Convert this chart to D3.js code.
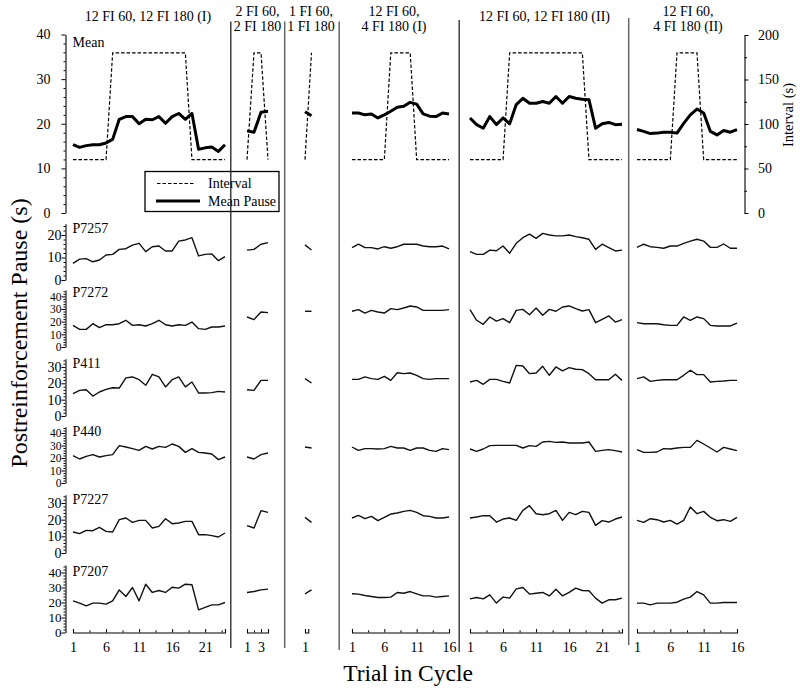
<!DOCTYPE html>
<html>
<head>
<meta charset="utf-8">
<script src="https://cdn.jsdelivr.net/npm/d3@7/dist/d3.min.js"></script>
<style>
html,body{margin:0;padding:0;background:#fff;}
svg{display:block;}
</style>
</head>
<body>
<svg id="chart" width="800" height="692"></svg>
<script>
// ================= DATA =================
const panelTitles = [
  ["12 FI 60, 12 FI 180 (I)"],
  ["2 FI 60,", "2 FI 180"],
  ["1 FI 60,", "1 FI 180"],
  ["12 FI 60,", "4 FI 180 (I)"],
  ["12 FI 60, 12 FI 180 (II)"],
  ["12 FI 60,", "4 FI 180 (II)"]
];
const trialCounts = [24, 4, 2, 16, 24, 16];
const xMajorTicks = [[1,6,11,16,21],[1,3],[1],[1,6,11,16],[1,6,11,16,21],[1,6,11,16]];
const xMinorTicks = [[3.5,8.5,13.5,18.5,23.5],[2,4],[],[3.5,8.5,13.5],[3.5,8.5,13.5,18.5,23.5],[3.5,8.5,13.5]];

const meanTicks = [0, 10, 20, 30, 40];
const intervalTicks = [0, 50, 100, 150, 200];

const intervalValues = [
  [60,60,60,60,60,60,180,180,180,180,180,180,180,180,180,180,180,180,60,60,60,60,60,60],
  [60,180,180,60],
  [60,180],
  [60,60,60,60,60,60,180,180,180,180,60,60,60,60,60,60],
  [60,60,60,60,60,60,180,180,180,180,180,180,180,180,180,180,180,180,60,60,60,60,60,60],
  [60,60,60,60,60,60,180,180,180,180,60,60,60,60,60,60]
];

const meanPause = [
  [15.3,14.7,15.1,15.3,15.3,15.7,16.5,21.0,21.6,21.6,20.0,21.0,20.9,21.6,20.1,21.6,22.3,21.0,22.3,14.3,14.6,14.8,13.8,15.3],
  [18.4,18.1,22.6,22.8],
  [22.7,21.8],
  [22.4,22.4,22.0,22.2,21.3,22.0,22.8,23.7,23.9,24.8,24.4,22.2,21.7,21.6,22.4,22.2],
  [21.3,19.8,19.0,21.6,19.8,21.3,20.0,24.3,25.7,24.6,24.6,25.0,24.6,26.1,24.6,26.1,25.7,25.5,25.4,19.0,20.0,20.3,19.8,19.9],
  [18.7,18.3,17.8,17.9,18.1,18.1,17.9,20.1,22.0,23.3,22.4,18.3,17.5,18.5,18.1,18.7]
];

const subjects = ["P7257", "P7272", "P411", "P440", "P7227", "P7207"];
const subjectMax = [25, 45, 35, 45, 35, 45];
const subjectTicks = [[0,10,20],[0,10,20,30,40],[0,10,20,30],[0,10,20,30,40],[0,10,20,30],[0,10,20,30,40]];

const P7257 = [
  [7.4,9.3,9.5,8.1,8.9,11.1,11.4,13.6,13.9,15.5,16.3,12.6,14.8,15.1,12.9,12.9,17.3,17.8,18.8,10.7,11.4,11.6,8.6,10.4],
  [13.3,13.6,15.9,16.6],
  [15.6,13.3],
  [14.4,15.9,14.4,14.4,13.8,14.8,14.1,14.8,15.9,15.9,15.9,15.1,14.8,14.8,15.1,13.8],
  [12.6,11.4,11.4,13.3,13.0,15.1,11.9,16.3,18.8,20.4,18.5,20.7,20.0,19.6,19.6,20.0,19.3,18.8,18.1,13.6,15.9,14.4,12.9,13.3],
  [14.5,15.9,14.8,14.5,14.1,15.1,15.1,16.3,17.3,18.1,17.3,14.5,14.5,16.0,14.1,14.1]
];
const P7272 = [
  [17.1,13.9,13.9,18.4,15.3,17.6,17.6,18.4,21.1,17.1,17.6,16.6,18.4,21.1,17.6,16.6,17.6,17.1,19.7,14.5,13.9,15.8,15.8,16.6],
  [23.7,21.6,27.6,27.1],
  [28.2,28.2],
  [28.2,29.5,26.8,28.9,27.6,26.8,30.3,29.5,30.8,32.4,31.6,28.9,28.9,28.9,28.9,29.5],
  [29.5,21.1,17.9,23.7,20.5,22.4,19.2,28.9,29.7,25.5,30.8,25.0,29.7,28.2,31.6,32.4,30.3,28.4,29.5,19.2,21.8,24.5,19.7,21.6],
  [19.2,18.4,18.4,18.4,17.6,17.1,17.1,23.7,21.1,23.7,22.4,17.1,16.6,16.6,16.6,18.9]
];
const P411 = [
  [13.7,15.7,16.1,12.2,14.7,16.3,17.3,17.1,23.3,23.9,22.2,18.8,25.5,23.9,17.8,22.2,23.9,17.8,20.8,14.1,14.1,14.3,15.1,14.7],
  [16.1,15.7,21.8,21.8],
  [22.9,20.2],
  [22.4,22.4,23.9,22.9,22.4,24.3,21.8,26.5,25.9,26.3,24.9,22.9,22.4,22.9,22.9,22.9],
  [20.8,21.8,19.4,22.4,22.4,21.2,20.2,31.0,30.6,25.9,26.3,30.4,24.9,30.0,27.6,29.6,28.6,28.4,25.9,22.2,22.2,22.2,25.5,21.8],
  [22.9,23.9,21.2,21.8,22.2,22.2,22.2,24.9,28.0,25.3,25.3,20.8,21.2,21.4,21.8,21.8]
];
const P440 = [
  [21.9,19.2,21.3,22.7,20.8,21.9,22.7,29.9,28.8,27.5,26.1,29.3,27.2,29.3,28.5,31.2,29.3,24.5,27.5,24.5,24.0,23.2,18.7,20.8],
  [20.8,19.2,22.7,24.0],
  [28.8,28.0],
  [28.8,26.1,27.5,27.5,27.2,27.5,29.3,28.0,28.0,26.1,28.0,28.0,26.1,25.3,27.5,26.7],
  [27.2,25.3,27.2,29.9,30.1,30.1,30.1,30.1,28.0,29.9,29.3,32.8,33.3,32.5,32.8,32.0,32.0,32.0,32.8,25.3,26.1,26.7,25.9,24.8],
  [26.7,24.5,24.5,24.8,27.5,27.2,28.0,28.5,28.5,34.1,31.2,28.0,24.8,28.5,27.2,25.9]
];
const P7227 = [
  [12.6,11.6,13.6,13.4,15.4,13.0,12.6,20.0,21.0,18.4,19.6,19.6,15.0,16.0,20.6,17.6,18.0,19.0,19.0,11.0,11.0,10.4,9.6,12.0],
  [16.4,15.0,25.4,24.4],
  [21.4,18.4],
  [21.0,22.6,20.6,22.0,19.4,21.4,23.4,24.0,25.0,25.6,24.4,22.4,22.0,21.0,21.0,21.6],
  [21.0,21.6,22.4,22.4,18.6,20.4,21.0,19.6,25.6,28.4,23.6,23.0,23.6,25.6,19.6,24.4,23.0,25.0,24.4,16.6,19.4,18.6,20.4,21.6],
  [19.6,18.4,20.6,20.0,18.6,19.6,17.4,19.6,27.6,23.6,25.0,21.4,19.4,20.0,19.0,21.4]
];
const P7207 = [
  [21.1,19.6,17.8,19.6,19.6,18.9,21.1,28.4,24.0,30.0,21.1,32.2,26.7,28.0,26.7,30.2,29.6,32.2,31.8,15.1,16.7,18.4,18.4,20.0],
  [26.7,27.3,28.4,28.9],
  [25.8,28.4],
  [25.8,25.6,24.7,24.0,23.3,23.3,23.6,26.7,26.2,27.3,25.8,24.4,24.4,23.6,24.0,24.4],
  [22.4,23.3,22.4,25.1,19.6,23.6,22.9,29.1,30.0,25.6,26.2,26.7,24.4,28.9,24.4,26.7,29.6,28.0,27.8,22.9,19.6,21.8,21.8,22.9],
  [19.6,19.6,18.4,19.6,19.6,19.6,20.2,22.2,23.6,27.3,25.1,19.6,19.6,20.0,20.0,20.0]
];
const subjectData = [P7257, P7272, P411, P440, P7227, P7207];

// ================= LAYOUT =================
const FONT = "'Liberation Serif','Times New Roman',Times,serif";
const svg = d3.select("#chart");
const AXIS_X = 65.5;
const RIGHT_AXIS_X = 744.5;
const X_AXIS_Y = 632.5;
const panelX = [[73,225],[247,268],[305,311.5],[352,449],[470,622],[637,737]];
const xAxisEnd = [24, 4, 1.5, 16, 24, 16];
const titleX = [148, 257.5, 311, 394, 544.5, 688];
const meanRow = {y0: 213, yTop: 34.5, nameY: 46.5};
const subjectRows = [
  {y0: 280,   yTop: 223.75, nameY: 232.5, fs: 14},
  {y0: 347,   yTop: 290,    nameY: 297,   fs: 11.5},
  {y0: 416,   yTop: 358.8,  nameY: 368,   fs: 14},
  {y0: 483,   yTop: 426.75, nameY: 436,   fs: 11.5},
  {y0: 553,   yTop: 494.7,  nameY: 504,   fs: 14},
  {y0: 632.5, yTop: 565,    nameY: 576,   fs: 13}
];
const dividers = [
  {x: 230.8, y1: 21.5, y2: 648, c: "#222", w: 1.3},
  {x: 284.7, y1: 21.5, y2: 648, c: "#666", w: 1.5},
  {x: 339.2, y1: 21.5, y2: 650, c: "#666", w: 1.5},
  {x: 459.2, y1: 20,   y2: 652, c: "#333", w: 1.4},
  {x: 628.7, y1: 18,   y2: 645, c: "#666", w: 1.5}
];

const xs = trialCounts.map((n, i) => d3.scaleLinear().domain([1, n]).range(panelX[i]));

function styleAxis(g, fs) {
  fs = fs || 14;
  g.attr("font-family", FONT).attr("font-size", fs);
  g.selectAll("text").attr("fill", "#000").attr("font-family", FONT).attr("font-size", fs);
  g.selectAll("line").attr("stroke", "#000").attr("stroke-width", 1);
  g.selectAll("path").attr("stroke", "#000").attr("stroke-width", 1.1);
}

function drawLeftAxis(y, ticks, max, pad, fs) {
  const minors = d3.range(0, max + 0.001, 2).filter(v => v % 10 !== 0);
  const gMin = svg.append("g").attr("transform", `translate(${AXIS_X},0)`)
    .call(d3.axisLeft(y).tickValues(minors).tickSize(2).tickFormat(""));
  gMin.select(".domain").remove();
  styleAxis(gMin);
  const g = svg.append("g").attr("transform", `translate(${AXIS_X},0)`)
    .call(d3.axisLeft(y).tickValues(ticks).tickSize(4).tickSizeOuter(0).tickPadding(pad));
  styleAxis(g, fs);
}

// ---------- Mean panel ----------
const yMean = d3.scaleLinear().domain([0, 40]).range([meanRow.y0, meanRow.yTop]);
const yInt = d3.scaleLinear().domain([0, 200]).range([meanRow.y0, 35]);
drawLeftAxis(yMean, meanTicks, 40, 11, 14);

// right axis
{
  const minors = d3.range(0, 201, 25).filter(v => v % 50 !== 0);
  const gMin = svg.append("g").attr("transform", `translate(${RIGHT_AXIS_X},0)`)
    .call(d3.axisRight(yInt).tickValues(minors).tickSize(2.5).tickFormat(""));
  gMin.select(".domain").remove();
  styleAxis(gMin);
  const g = svg.append("g").attr("transform", `translate(${RIGHT_AXIS_X},0)`)
    .call(d3.axisRight(yInt).tickValues(intervalTicks).tickSize(4).tickSizeOuter(0).tickPadding(9.5));
  styleAxis(g);
}
svg.append("text")
  .attr("transform", "translate(793,115) rotate(-90)")
  .attr("text-anchor", "middle")
  .attr("font-family", FONT).attr("font-size", 14.5)
  .text("Interval (s)");

svg.append("text").attr("x", 72.5).attr("y", meanRow.nameY)
  .attr("font-family", FONT).attr("font-size", 14).text("Mean");

trialCounts.forEach((n, i) => {
  const x = xs[i];
  svg.append("path")
    .datum(intervalValues[i])
    .attr("fill", "none").attr("stroke", "#000").attr("stroke-width", 1.2)
    .attr("stroke-dasharray", "3.5,2")
    .attr("d", d3.line().x((d, k) => x(k + 1)).y(d => yInt(d)));
  svg.append("path")
    .datum(meanPause[i])
    .attr("fill", "none").attr("stroke", "#000").attr("stroke-width", 3)
    .attr("stroke-linejoin", "round")
    .attr("d", d3.line().x((d, k) => x(k + 1)).y(d => yMean(d)));
});

// ---------- Subject panels ----------
subjects.forEach((name, r) => {
  const row = subjectRows[r];
  const y = d3.scaleLinear().domain([0, subjectMax[r]]).range([row.y0, row.yTop]);
  drawLeftAxis(y, subjectTicks[r], subjectMax[r], 0, row.fs);
  svg.append("text").attr("x", 72.5).attr("y", row.nameY)
    .attr("font-family", FONT).attr("font-size", 14).text(name);
  subjectData[r].forEach((series, i) => {
    const x = xs[i];
    svg.append("path")
      .datum(series)
      .attr("fill", "none").attr("stroke", "#111").attr("stroke-width", 1.4)
      .attr("stroke-linejoin", "round")
      .attr("d", d3.line().x((d, k) => x(k + 1)).y(d => y(d)));
  });
});

// ---------- X axes ----------
trialCounts.forEach((n, i) => {
  const xa = d3.scaleLinear().domain([1, xAxisEnd[i]]).range([xs[i](1), xs[i](xAxisEnd[i])]);
  const minors = xMinorTicks[i].filter(v => v <= xAxisEnd[i]);
  if (minors.length) {
    const gMin = svg.append("g").attr("transform", `translate(0,${X_AXIS_Y})`)
      .call(d3.axisBottom(xa).tickValues(minors).tickSize(-2.2).tickFormat(""));
    gMin.select(".domain").remove();
    styleAxis(gMin);
  }
  const g = svg.append("g").attr("transform", `translate(0,${X_AXIS_Y})`)
    .call(d3.axisBottom(xa).tickValues(xMajorTicks[i]).tickSize(-3.5).tickSizeOuter(-3.5).tickPadding(10).tickFormat(d3.format("d")));
  styleAxis(g);
});

// ---------- Titles ----------
panelTitles.forEach((lines, i) => {
  const ys = lines.length === 1 ? [20.5] : [15.5, 30.5];
  lines.forEach((t, j) => {
    svg.append("text").attr("x", titleX[i]).attr("y", ys[j])
      .attr("text-anchor", "middle")
      .attr("font-family", FONT).attr("font-size", 14).text(t);
  });
});

// ---------- Legend ----------
{
  const lg = svg.append("g");
  lg.append("rect").attr("x", 145).attr("y", 171.5).attr("width", 134).attr("height", 40)
    .attr("fill", "none").attr("stroke", "#000").attr("stroke-width", 1.3);
  lg.append("line").attr("x1", 157).attr("x2", 195).attr("y1", 183.5).attr("y2", 183.5)
    .attr("stroke", "#000").attr("stroke-width", 1.2).attr("stroke-dasharray", "3.5,2");
  lg.append("line").attr("x1", 156).attr("x2", 200).attr("y1", 201).attr("y2", 201)
    .attr("stroke", "#000").attr("stroke-width", 3);
  lg.append("text").attr("x", 208).attr("y", 188).attr("font-family", FONT).attr("font-size", 14).text("Interval");
  lg.append("text").attr("x", 208).attr("y", 206).attr("font-family", FONT).attr("font-size", 14).text("Mean Pause");
}

// ---------- Dividers ----------
dividers.forEach(d => {
  svg.append("line").attr("x1", d.x).attr("x2", d.x).attr("y1", d.y1).attr("y2", d.y2)
    .attr("stroke", d.c).attr("stroke-width", d.w);
});

// ---------- Axis titles ----------
svg.append("text")
  .attr("transform", "translate(27,333) rotate(-90)")
  .attr("text-anchor", "middle")
  .attr("font-family", FONT).attr("font-size", 24)
  .text("Postreinforcement Pause (s)");
svg.append("text")
  .attr("x", 408).attr("y", 681)
  .attr("text-anchor", "middle")
  .attr("font-family", FONT).attr("font-size", 23.5)
  .text("Trial in Cycle");
</script>
</body>
</html>
